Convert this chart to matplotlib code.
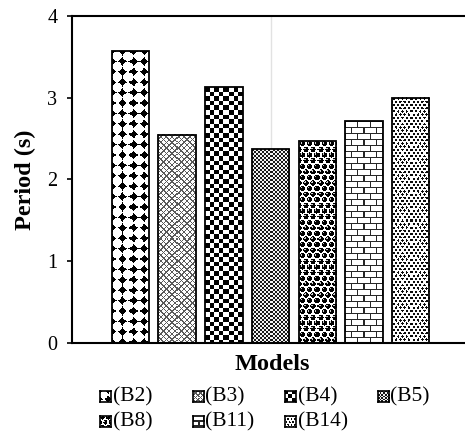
import numpy as np
import matplotlib
matplotlib.use('Agg')
import matplotlib.pyplot as plt

# Fundamental period of each model
models = ['(B2)', '(B3)', '(B4)', '(B5)', '(B8)', '(B11)', '(B14)']
periods = [3.57, 2.55, 3.13, 2.37, 2.47, 2.71, 3.00]
fills = ['circles', 'cross', 'checker', 'fine', 'spheres', 'bricks', 'dots']
y_ticks = [0, 1, 2, 3, 4]

plt.rcParams['font.family'] = ['Liberation Serif', 'DejaVu Serif']

'''############################################### Fill patterns (pixel grids) ###############################################'''
def pat_circles(x, y):
    # rounded white diamonds on black, touching at their tips
    p = 10.4
    dx = np.abs((x % p) - p / 2)
    dy = np.abs((y % p) - p / 2)
    d = (dx ** 1.5 + dy ** 1.5) ** (1 / 1.5)
    return (d < 0.5 * p).astype(float)

def pat_cross(x, y):
    p = 5.6
    a = np.abs(((x + y) % p) - p / 2)
    b = np.abs(((x - y) % p) - p / 2)
    line = (a > p / 2 - 0.75) | (b > p / 2 - 0.75)
    return np.where(line, 0.35, 1.0)

def pat_checker(x, y):
    c = 4.6
    return ((np.floor(x / c) + np.floor(y / c)) % 2).astype(float)

def pat_fine(x, y):
    c = 2.0
    v = ((np.floor(x / c) + np.floor(y / c)) % 2)
    return np.where(v > 0, 0.95, 0.1)

def pat_spheres(x, y):
    px, py = 7.0, 5.6
    row = np.floor(y / py)
    xs = x + (row % 2) * px / 2
    dx = (xs % px) - px / 2
    dy = (y % py) - py / 2
    ball = np.hypot(dx, dy) < 2.6
    shine = np.hypot(dx + 0.9, dy + 0.9) < 0.8
    out = np.where(ball, 0.0, 1.0)
    out[shine] = 0.8
    return out

def pat_bricks(x, y):
    h, w = 6.0, 12.0
    row = np.floor(y / h)
    horiz = (y % h) < 1.2
    vert = ((x + (row % 2) * w / 2) % w) < 1.2
    return np.where(horiz | vert, 0.15, 1.0)

def pat_dots(x, y):
    px, py = 4.2, 3.2
    row = np.floor(y / py)
    xs = x + (row % 2) * px / 2
    d = np.hypot((xs % px) - px / 2, (y % py) - py / 2)
    return np.where(d < 1.15, 0.05, 1.0)

pattern_funcs = {'circles': pat_circles, 'cross': pat_cross, 'checker': pat_checker,
                 'fine': pat_fine, 'spheres': pat_spheres, 'bricks': pat_bricks, 'dots': pat_dots}

def pattern_image(name, w, h, scale=1.0):
    xx, yy = np.meshgrid(np.arange(w) + 0.5, np.arange(h) + 0.5)
    return pattern_funcs[name](xx / scale, yy / scale)

'''###################################################### Ploting ######################################################'''
W, H = 465, 440
fig = plt.figure(figsize=(W / 100, H / 100), dpi=100)
ax = fig.add_axes([72 / W, 97 / H, 1 - 72 / W, 327 / H])

x = np.arange(len(models))
xlim = (-1.25, 7.16)
ax.set_xlim(*xlim)
ax.set_ylim(0, 4)
ax.set_autoscale_on(False)

ax.axvline(3, color='#e2e2e2', lw=1, zorder=0)

bars = ax.bar(x, periods, width=0.8, facecolor='none', edgecolor='black', lw=1.3, zorder=3)

# fill every bar with its pattern at screen resolution
for bar, name in zip(bars, fills):
    bx, bw, bh = bar.get_x(), bar.get_width(), bar.get_height()
    (x0, y0), (x1, y1) = ax.transData.transform([(bx, 0), (bx + bw, bh)])
    img = pattern_image(name, int(round(x1 - x0)), int(round(y1 - y0)))
    ax.imshow(img, cmap='gray', vmin=0, vmax=1, extent=(bx, bx + bw, 0, bh),
              interpolation='nearest', aspect='auto', zorder=2)

ax.set_xlim(*xlim)
ax.set_ylim(0, 4)

ax.set_yticks(y_ticks)
ax.set_xticks([])
ax.tick_params(axis='y', direction='out', length=3.6, width=1.2, pad=7, labelsize=14.5)
for side in ['left', 'top', 'bottom']:
    ax.spines[side].set_linewidth(1.5)
ax.spines['right'].set_visible(False)

ax.set_ylabel('Period (s)', fontsize=17.5, fontweight='bold')
ax.yaxis.set_label_coords(-0.092, 0.5)
ax.set_xlabel('Models', fontsize=17.5, fontweight='bold')
ax.xaxis.set_label_coords(0.509, -0.035)

# legend: small pattern swatches with labels, four per row
sw = 11
for i, (name, label) in enumerate(zip(models, fills)):
    row, col = divmod(i, 4)
    left = 100 + col * 92.5
    top = 391 + row * 25
    sax = fig.add_axes([left / W, 1 - (top + sw) / H, sw / W, sw / H])
    sax.imshow(pattern_image(label, 22, 22, scale=1.6), cmap='gray', vmin=0, vmax=1,
               interpolation='nearest', aspect='auto')
    sax.set_xticks([])
    sax.set_yticks([])
    for s in sax.spines.values():
        s.set_linewidth(1.2)
    fig.text((left + sw + 1.5) / W, 1 - (top + sw / 2) / H, name, fontsize=15.5, va='center')

fig.savefig('out.png', dpi=100)
